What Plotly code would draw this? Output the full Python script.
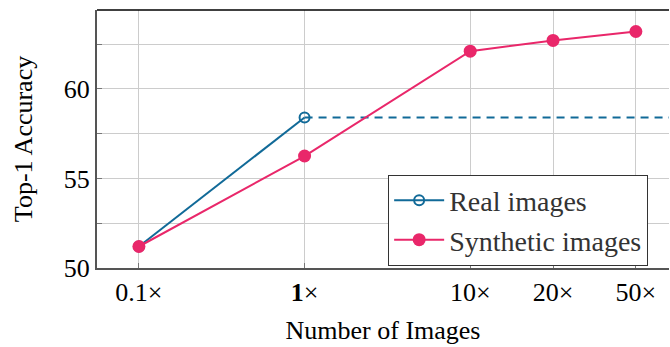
import plotly.graph_objects as go

# Data
scales = ["0.1×", "<b>1</b>×", "10×", "20×", "50×"]
positions = [0, 2, 4, 5, 6]          # slot of each scale on the x axis
real_pos = [0, 2]
real_acc = [51.2, 58.4]
synthetic_acc = [51.2, 56.25, 62.1, 62.7, 63.2]

BLUE = "#116a98"
PINK = "#e9276a"
FONT = "Liberation Serif"

x_range = [-0.506, 6.4]
y_range = [50, 64.4]

fig = go.Figure()

# Real-image accuracy carried forward as a reference level
fig.add_trace(go.Scatter(
    x=[real_pos[-1], x_range[1]], y=[real_acc[-1], real_acc[-1]],
    mode="lines", line=dict(color=BLUE, width=2, dash="8px,6px"),
    showlegend=False, hoverinfo="skip"))

fig.add_trace(go.Scatter(
    x=real_pos, y=real_acc, mode="lines+markers", name="Real images",
    line=dict(color=BLUE, width=2),
    marker=dict(symbol="circle-open", size=10, color=BLUE, line=dict(width=2, color=BLUE))))

fig.add_trace(go.Scatter(
    x=positions, y=synthetic_acc, mode="lines+markers", name="Synthetic images",
    line=dict(color=PINK, width=2),
    marker=dict(symbol="circle", size=13, color=PINK)))

fig.update_layout(
    width=670, height=347,
    margin=dict(l=97, r=1, t=10, b=79),
    plot_bgcolor="white", paper_bgcolor="white",
    font=dict(family=FONT, size=26, color="black"),
    legend=dict(x=0.509, y=0.362, xanchor="left", yanchor="top",
                bgcolor="white", bordercolor="#333333", borderwidth=1,
                font=dict(family=FONT, size=28, color="#333333"),
                tracegroupgap=0, itemwidth=50),
    showlegend=True,
)

fig.update_xaxes(
    range=x_range, tickvals=positions, ticktext=scales,
    showgrid=True, gridcolor="#cccccc", gridwidth=1,
    showline=True, linecolor="#555555", linewidth=2, mirror=False,
    ticks="inside", ticklen=5, tickcolor="#777777",
    tickfont=dict(family=FONT, size=26),
    title=dict(text="Number of Images", font=dict(family=FONT, size=26), standoff=15),
    zeroline=False)

fig.update_yaxes(
    range=y_range,
    tickvals=[50, 52.5, 55, 57.5, 60, 62.5],
    ticktext=["50", "", "55", "", "60", ""],
    showgrid=True, gridcolor="#cccccc", gridwidth=1,
    showline=True, linecolor="#555555", linewidth=2, mirror=False,
    ticks="inside", ticklen=5, tickcolor="#777777",
    tickfont=dict(family=FONT, size=26),
    title=dict(text="Top-1 Accuracy", font=dict(family=FONT, size=26), standoff=24),
    zeroline=False)

# top frame line
fig.add_shape(type="line", xref="paper", yref="paper", x0=0, x1=1, y0=1, y1=1,
              line=dict(color="black", width=1.5))

fig.write_html("out.html")
